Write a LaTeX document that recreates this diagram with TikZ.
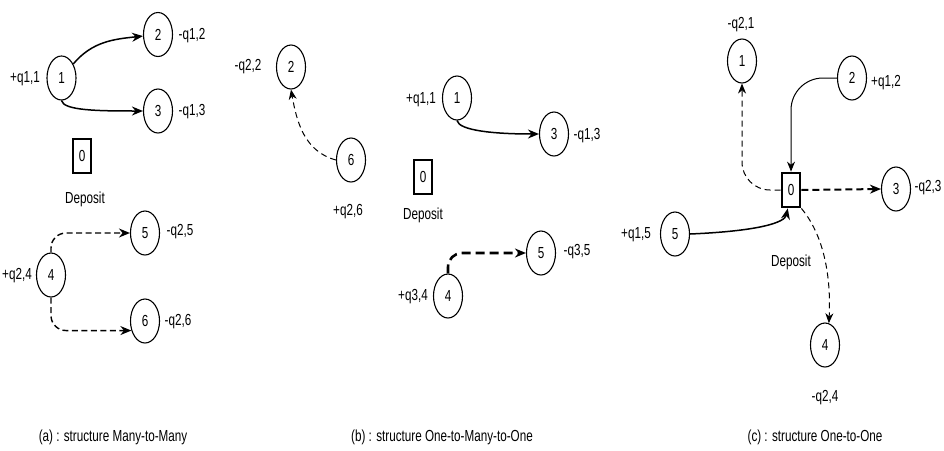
\documentclass[tikz,border=0pt]{standalone}
\usepackage{fontspec}
\setmainfont{Liberation Sans}[FakeStretch=0.73]
\usetikzlibrary{shapes.geometric,arrows.meta,calc}
\begin{document}
\begin{tikzpicture}[x=1pt,y=1pt,
  font=\fontsize{16pt}{19pt}\selectfont,
  cnode/.style={draw,ellipse,line width=1.1pt,minimum width=29pt,minimum height=44pt,inner sep=0pt},
  dnode/.style={draw,rectangle,line width=2.8pt,minimum width=18pt,minimum height=34pt,inner sep=0pt},
  lbl/.style={inner sep=0pt},
  arrbig/.style={-{Stealth[length=11pt,width=9pt]}},
  arrsmall/.style={-{Stealth[length=10pt,width=8pt]}},
  solidline/.style={arrbig,line width=1.5pt},
  thinsolid/.style={arrsmall,line width=1pt},
  thindash/.style={arrsmall,line width=1pt,dash pattern=on 6pt off 4pt},
  meddash/.style={arrbig,line width=1.4pt,dash pattern=on 6pt off 3.5pt},
  thickdash/.style={arrbig,line width=2.6pt,dash pattern=on 9pt off 5pt},
  heavydash/.style={arrbig,line width=2pt,dash pattern=on 7pt off 4pt}
]
\useasboundingbox (0,0) rectangle (944,-450);

% ---------- (a) ----------
\node[cnode] (a1) at (61.5,-78) {1};
\node[cnode] (a2) at (158,-34.5) {2};
\node[cnode] (a3) at (158,-111) {3};
\node[dnode] (a0) at (82,-156) {0};
\node[cnode] (a4) at (51,-275) {4};
\node[cnode] (a5) at (145,-233) {5};
\node[cnode] (a6) at (145,-321) {6};
\node[lbl] (la1) at (25,-79) {+q1,1};
\node[lbl] (la2) at (192,-36) {-q1,2};
\node[lbl] (la3) at (192,-112) {-q1,3};
\node[lbl] (la0) at (85,-199) {Deposit};
\node[lbl] (la4) at (17,-276) {+q2,4};
\node[lbl] (la5) at (180,-232) {-q2,5};
\node[lbl] (la6) at (178,-322) {-q2,6};
\node[lbl] (capa) at (113,-437) {(a) : structure Many-to-Many};

\draw[solidline] (a1) to[out=50,in=186] (a2);
\draw[solidline] (a1.south) .. controls +(2,-10) and +(-45,0) .. (a3.west);
\draw[meddash,rounded corners=15pt] (a4.north) |- (a5.west);
\draw[meddash,rounded corners=15pt] (a4.south) |- (a6.215);

% ---------- (b) ----------
\node[cnode] (b2) at (291,-67) {2};
\node[cnode] (b6) at (351,-160) {6};
\node[cnode] (b1) at (457,-98) {1};
\node[cnode] (b3) at (554,-134) {3};
\node[dnode] (b0) at (423,-177) {0};
\node[cnode] (b4) at (448,-296) {4};
\node[cnode] (b5) at (541,-253) {5};
\node[lbl] (lb2) at (248,-67) {-q2,2};
\node[lbl] (lb6) at (348,-212) {+q2,6};
\node[lbl] (lb1) at (421,-100) {+q1,1};
\node[lbl] (lb3) at (587,-136) {-q1,3};
\node[lbl] (lb0) at (423,-215) {Deposit};
\node[lbl] (lb4) at (413,-297) {+q3,4};
\node[lbl] (lb5) at (577,-252) {-q3,5};
\node[lbl] (capb) at (442,-437) {(b) : structure One-to-Many-to-One};

\draw[thindash] (b6.west) to[out=165,in=-80] (b2.south);
\draw[solidline] (b1.south) .. controls +(2,-10) and +(-45,0) .. (b3.west);
\draw[thickdash,rounded corners=14pt] (b4.north) |- (b5.west);

% ---------- (c) ----------
\node[cnode] (c1) at (742,-61) {1};
\node[cnode] (c2) at (852,-78) {2};
\node[dnode] (c0) at (791,-190) {0};
\node[cnode] (c3) at (896,-189) {3};
\node[cnode] (c5) at (675,-234) {5};
\node[cnode] (c4) at (825,-345) {4};
\node[lbl] (lc1) at (741,-25) {-q2,1};
\node[lbl] (lc2) at (886,-83) {+q1,2};
\node[lbl] (lc3) at (928,-188) {-q2,3};
\node[lbl] (lc5) at (636,-235) {+q1,5};
\node[lbl] (lc0) at (791,-262) {Deposit};
\node[lbl] (lc4) at (825,-398) {-q2,4};
\node[lbl] (capc) at (815,-437) {(c) : structure One-to-One};

\draw[thindash,rounded corners=28pt] (c0.west) -| (c1.south);
\draw[thinsolid,rounded corners=32pt] (c2.west) -| (c0.north);
\draw[heavydash] (c0.east) -- (c3.west);
\draw[solidline] (c5.east) .. controls +(70,3) and +(-3,-14) .. (c0.-100);
\draw[thindash] (c0.south east) .. controls +(25,-30) and +(2,40) .. (c4.80);
\end{tikzpicture}
\end{document}
